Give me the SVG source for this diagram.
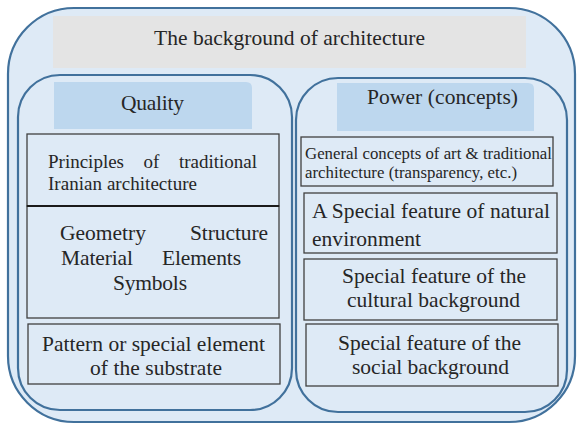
<svg xmlns="http://www.w3.org/2000/svg" width="577" height="425" viewBox="0 0 577 425">
  <style>
    .panel { fill: #deeaf6; stroke: #41719c; stroke-width: 2.2; }
    .box { fill: #deeaf6; stroke: #404040; stroke-width: 1.3; }
    .head { fill: #bdd7ee; }
    .title { fill: #e4e4e4; }
    .big { font-size: 21.5px; }
    .mid { font-size: 19px; }
    .small { font-size: 16.8px; }
  </style>

  <g font-family="Liberation Serif, Times New Roman, serif" fill="#262626">
    <!-- outer container -->
    <g id="background">
      <rect class="panel" x="8" y="8" width="567" height="414" rx="66" ry="66"/>
      <rect class="title" x="53" y="16" width="473" height="52"/>
      <text class="big" x="154" y="45" textLength="271" lengthAdjust="spacing">The background of architecture</text>
    </g>

    <!-- left column -->
    <g id="quality">
      <rect class="panel" x="18" y="75" width="274" height="335" rx="42" ry="42"/>
      <path class="head" d="M54,82 H246 Q252,82 252,88 V129 H54 Z"/>
      <text class="big" x="121" y="110" textLength="63" lengthAdjust="spacing">Quality</text>
    </g>

    <g id="principles">
      <rect class="box" x="27" y="134" width="252" height="72"/>
      <!-- justified first line: words placed individually -->
      <text class="mid" x="48" y="168" textLength="76" lengthAdjust="spacing">Principles</text>
      <text class="mid" x="151.5" y="168" text-anchor="middle">of</text>
      <text class="mid" x="257" y="168" text-anchor="end">traditional</text>
      <text class="mid" x="48" y="190" textLength="149" lengthAdjust="spacing">Iranian architecture</text>
    </g>

    <g id="elements">
      <rect class="box" x="27" y="206" width="252" height="112"/>
      <line x1="27" y1="206" x2="279" y2="206" stroke="#1a1a1a" stroke-width="2.2"/>
      <text class="big" x="60" y="240" textLength="86" lengthAdjust="spacing">Geometry</text>
      <text class="big" x="190" y="240" textLength="78" lengthAdjust="spacing">Structure</text>
      <text class="big" x="61" y="265" textLength="72" lengthAdjust="spacing">Material</text>
      <text class="big" x="162" y="265" textLength="79" lengthAdjust="spacing">Elements</text>
      <text class="big" x="113" y="290" textLength="74" lengthAdjust="spacing">Symbols</text>
    </g>

    <g id="pattern">
      <rect class="box" x="28" y="324" width="252" height="60"/>
      <text class="big" x="42" y="351" textLength="223" lengthAdjust="spacing">Pattern or special element</text>
      <text class="big" x="90" y="375" textLength="132" lengthAdjust="spacing">of the substrate</text>
    </g>

    <!-- right column -->
    <g id="power">
      <rect class="panel" x="296" y="78" width="271" height="334" rx="42" ry="42"/>
      <path class="head" d="M337,83 H528 Q534,83 534,89 V131 H337 Z"/>
      <text class="big" x="367" y="104" textLength="151" lengthAdjust="spacing">Power (concepts)</text>
    </g>

    <g id="general-concepts">
      <rect class="box" x="301" y="137" width="252" height="49"/>
      <text class="small" x="305" y="159" textLength="247" lengthAdjust="spacing">General concepts of art &amp; traditional</text>
      <text class="small" x="305" y="178" textLength="212" lengthAdjust="spacing">architecture (transparency, etc.)</text>
    </g>

    <g id="natural">
      <rect class="box" x="304" y="193" width="253" height="60"/>
      <text class="big" x="312" y="218" textLength="238" lengthAdjust="spacing">A Special feature of natural</text>
      <text class="big" x="312" y="246" textLength="109" lengthAdjust="spacing">environment</text>
    </g>

    <g id="cultural">
      <rect class="box" x="304" y="259" width="253" height="61"/>
      <text class="big" x="342" y="283" textLength="184" lengthAdjust="spacing">Special feature of the</text>
      <text class="big" x="347" y="307" textLength="173" lengthAdjust="spacing">cultural background</text>
    </g>

    <g id="social">
      <rect class="box" x="306" y="324" width="252" height="62"/>
      <text class="big" x="338" y="350" textLength="183" lengthAdjust="spacing">Special feature of the</text>
      <text class="big" x="352" y="374" textLength="157" lengthAdjust="spacing">social background</text>
    </g>
  </g>

  <g id="connectors"/>
</svg>
